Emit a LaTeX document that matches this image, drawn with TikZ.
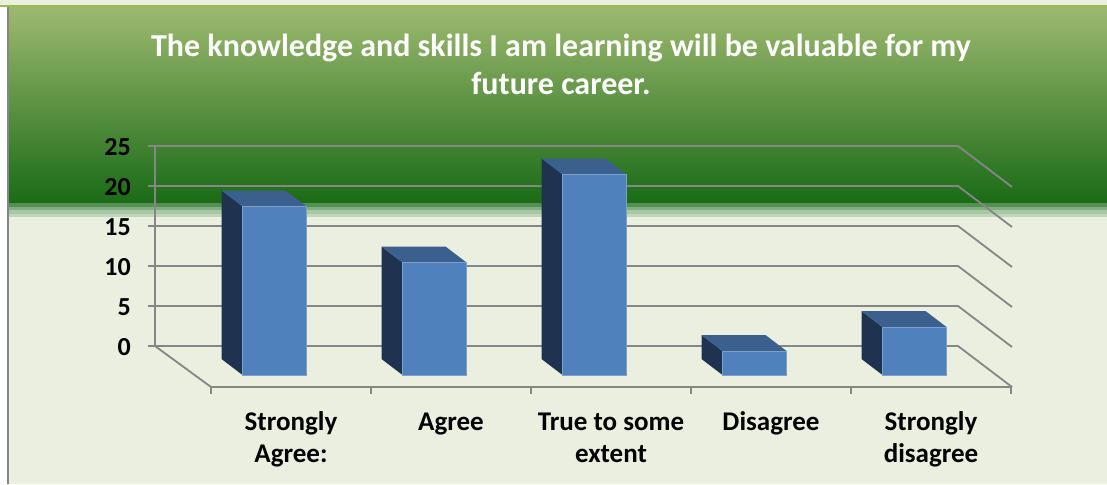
\documentclass[tikz,border=0pt]{standalone}
\usepackage{fontspec}
\setmainfont{Carlito}
\definecolor{hdrtop}{RGB}{157,185,111}
\definecolor{hdrmid}{RGB}{92,148,68}
\definecolor{hdrbot}{RGB}{26,107,23}
\definecolor{paper}{RGB}{235,239,223}
\definecolor{stripline}{RGB}{155,187,89}
\definecolor{axisgray}{RGB}{134,134,134}
\definecolor{cfront}{RGB}{79,129,189}
\definecolor{cside}{RGB}{31,51,80}
\definecolor{ctop}{RGB}{60,96,142}

\begin{document}
\begin{tikzpicture}[x=1pt, y=-1pt,
  gridline/.style={draw=axisgray, line width=1.8pt},
  barfront/.style={fill=cfront, draw=cfront!75!white, line width=0.8pt},
  barside/.style={fill=cside},
  bartop/.style={fill=ctop},
  ylab/.style={anchor=base east, inner sep=0pt, font=\fontsize{26}{32}\selectfont\bfseries},
  xlab/.style={anchor=base, align=center, inner sep=0pt, font=\fontsize{27}{32}\selectfont\bfseries}]
\useasboundingbox (0,0) rectangle (1107,484);

% Background
\fill[white] (0,0) rectangle (1107,484);
\fill[paper] (9,7) rectangle (1107,484);
\fill[paper!60!stripline!40!white] (0,0) rectangle (1107,5);
\fill[stripline] (0,5) rectangle (1107,7.5);
\shade[top color=hdrtop, middle color=hdrmid, bottom color=hdrbot] (9,7.5) rectangle (1107,203);
\fill[hdrbot!75!white] (9,203) rectangle (1107,206.5);
\fill[hdrbot!55!white] (9,206.5) rectangle (1107,210);
\fill[hdrbot!38!white] (9,210) rectangle (1107,213.5);
\fill[hdrbot!20!paper] (9,213.5) rectangle (1107,217);
\draw[axisgray, line width=2pt] (8,7.5) -- (8,484);

% Title
\node[white, anchor=base, align=center, inner sep=0pt, font=\fontsize{32}{38}\selectfont\bfseries] (title) at (561,95)
  {The knowledge and skills I am learning will be valuable for my\\future career.};

% Gridlines
\draw[gridline] (148,146) -- (958,146) -- (1012,187);
\draw[gridline] (148,186) -- (958,186) -- (1012,227);
\draw[gridline] (148,226) -- (958,226) -- (1012,267);
\draw[gridline] (148,266) -- (958,266) -- (1012,307);
\draw[gridline] (148,306) -- (958,306) -- (1012,347);
\draw[gridline] (148,346) -- (958,346) -- (1012,387);

% Axes and floor
\draw[gridline] (155,146) -- (155,346) -- (211,387) -- (1012,387);
\foreach \tx in {211,371,531,691,851,1011}
  \draw[gridline] (\tx,387) -- (\tx,394);

% Value labels
\node[ylab] (v25) at (131,155) {25};
\node[ylab] (v20) at (131,195) {20};
\node[ylab] (v15) at (131,235) {15};
\node[ylab] (v10) at (131,275) {10};
\node[ylab] (v5) at (131,315) {5};
\node[ylab] (v0) at (131,355) {0};

% Bars
\fill[barside] (242.5,375) -- (242.5,206.5) -- (221.5,190.5) -- (221.5,359) -- cycle;
\fill[bartop] (242.5,206.5) -- (306.5,206.5) -- (285.5,190.5) -- (221.5,190.5) -- cycle;
\filldraw[barfront] (242.5,206.5) rectangle (306.5,375);

\fill[barside] (402.5,375) -- (402.5,262.5) -- (381.5,246.5) -- (381.5,359) -- cycle;
\fill[bartop] (402.5,262.5) -- (466.5,262.5) -- (445.5,246.5) -- (381.5,246.5) -- cycle;
\filldraw[barfront] (402.5,262.5) rectangle (466.5,375);

\fill[barside] (562.5,375) -- (562.5,174.5) -- (541.5,158.5) -- (541.5,359) -- cycle;
\fill[bartop] (562.5,174.5) -- (626.5,174.5) -- (605.5,158.5) -- (541.5,158.5) -- cycle;
\filldraw[barfront] (562.5,174.5) rectangle (626.5,375);

\fill[barside] (722.5,375) -- (722.5,351) -- (701.5,335) -- (701.5,359) -- cycle;
\fill[bartop] (722.5,351) -- (786.5,351) -- (765.5,335) -- (701.5,335) -- cycle;
\filldraw[barfront] (722.5,351) rectangle (786.5,375);

\fill[barside] (882.5,375) -- (882.5,327) -- (861.5,311) -- (861.5,359) -- cycle;
\fill[bartop] (882.5,327) -- (946.5,327) -- (925.5,311) -- (861.5,311) -- cycle;
\filldraw[barfront] (882.5,327) rectangle (946.5,375);

% Category labels
\node[xlab] (sagree) at (291,462) {Strongly\\Agree:};
\node[xlab] (agree) at (451,430) {Agree};
\node[xlab] (extent) at (611,462) {True to some\\extent};
\node[xlab] (disagree) at (771,430) {Disagree};
\node[xlab] (sdisagree) at (931,462) {Strongly\\disagree};
\end{tikzpicture}
\end{document}
